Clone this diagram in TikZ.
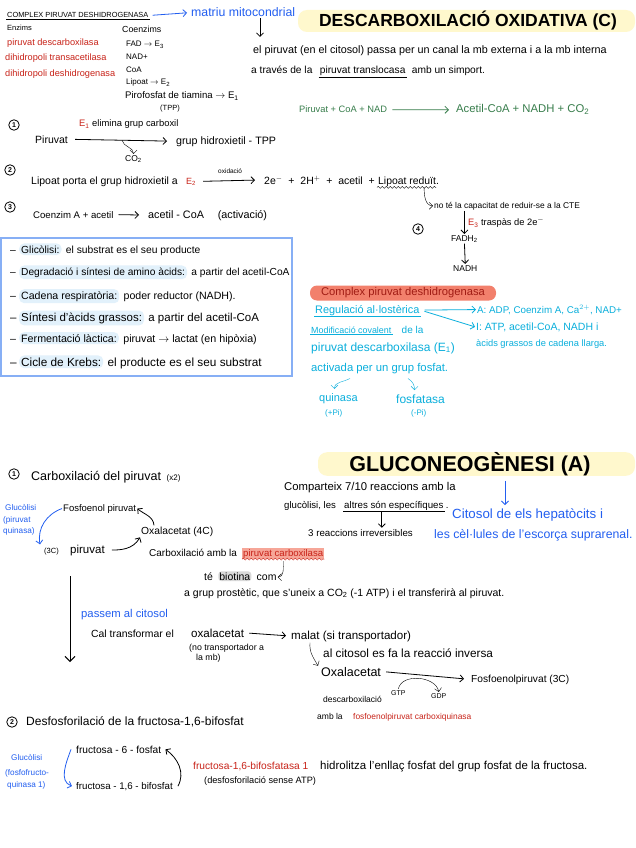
\documentclass[tikz,border=0pt]{standalone}
\usepackage{fontspec}
\setmainfont{Liberation Sans}
\usepackage{xcolor}
\usepackage{tikz}
\usetikzlibrary{positioning, arrows.meta, decorations.pathmorphing}

\definecolor{hred}{RGB}{200,35,25}
\definecolor{hblue}{RGB}{35,95,240}
\definecolor{hcyan}{RGB}{10,175,220}
\definecolor{hgreen}{RGB}{55,125,75}
\definecolor{hyellow}{RGB}{255,248,205}
\definecolor{hsalmon}{RGB}{242,128,108}
\definecolor{hpill}{RGB}{226,241,251}
\definecolor{hbox}{RGB}{135,175,245}

\begin{document}
\begin{tikzpicture}[
    x=1pt, y=-1pt,
    >={Straight Barb[length=3.5pt]},
    txt/.style={anchor=base west, inner sep=1pt},
    fs/.style={font=\fontsize{#1}{#1}\selectfont},
    hdr/.style={fill=hyellow, rounded corners=9pt, minimum height=22pt, inner sep=0pt},
    num/.style={draw, circle, thick, inner sep=0pt, minimum size=10.5pt, font=\fontsize{7}{7}\selectfont\bfseries},
    pill/.style={txt, fill=hpill, rounded corners=5pt, inner sep=2pt},
    wav/.style={decorate, decoration={snake, amplitude=1pt, segment length=4pt}}
]
\fill[white] (0,0) rectangle (635,848);
\useasboundingbox (0,0) rectangle (635,848);

% descarboxilacio oxidativa
\node[hdr, minimum width=337pt, font=\fontsize{17.5}{18}\selectfont\bfseries] (hdrC) at (466.5,21) {\hspace*{3pt}DESCARBOXILACIÓ OXIDATIVA (C)};

\node[txt, fs=7.4] (cpdh) at (6,18) {COMPLEX PIRUVAT DESHIDROGENASA};
\draw[thick] (cpdh.south west) -- (cpdh.south east);
\node[txt, fs=12.3, hblue] (matriu) at (190,17) {matriu mitocondrial};
\draw[->, hblue, thick, shorten <=3pt, shorten >=3pt] (cpdh.east) -- (matriu.west);

% enzims i coenzims
\node[txt, fs=7.5] (enz) at (6,31) {Enzims};
\node[txt, fs=9.2, hred] (enz1) at (6,46) {piruvat descarboxilasa};
\node[txt, fs=9.2, hred] (enz2) at (4,61) {dihidropoli transacetilasa};
\node[txt, fs=9.2, hred] (enz3) at (4,77) {dihidropoli deshidrogenasa};

\node[txt, fs=8.8] (coe) at (121,33) {Coenzims};
\node[txt, fs=8] (fad) at (125,47) {FAD $\rightarrow$ E\textsubscript{3}};
\node[txt, fs=8] (nad) at (125,60) {NAD+};
\node[txt, fs=8] (coa) at (125,73) {CoA};
\node[txt, fs=8] (lip) at (125,85) {Lipoat $\rightarrow$ E\textsubscript{2}};
\node[txt, fs=9.6] (tpp) at (124,99) {Pirofosfat de tiamina $\rightarrow$ E\textsubscript{1}};
\node[txt, fs=7.5] (tpp2) at (159,111) {(TPP)};

% piruvat al mitocondri
\node[txt, fs=10.8] (elpir) at (252,54) {el piruvat (en el citosol) passa per un canal la mb externa i a la mb interna};
\draw[->, thick] ([xshift=70pt]matriu.south west) -- ([xshift=8pt, yshift=8pt]elpir.north west);
\node[txt, fs=10.2] (trav) at (250,74) {a través de la};
\node[txt, fs=10.2] (transl) at ([xshift=5pt]trav.base east) {piruvat translocasa};
\draw[thick] (transl.south west) -- (transl.south east);
\node[txt, fs=10.2] (simp) at ([xshift=4pt]transl.base east) {amb un simport.};

\node[txt, fs=9.3, hgreen] (greac) at (298,113) {Piruvat + CoA + NAD};
\node[txt, fs=11.3, hgreen] (gprod) at (455,113) {Acetil-CoA + NADH + CO\textsubscript{2}};
\draw[->, hgreen, thick, shorten <=4pt, shorten >=6pt] (greac.east) -- (gprod.west);

% pas 1
\node[num] (n1) at (14,125) {1};
\node[txt, fs=9.4] (e1el) at (78,127) {\textcolor{hred}{E\textsubscript{1}} elimina grup carboxil};
\node[txt, fs=10.5] (pir1) at (34,143) {Piruvat};
\node[txt, fs=10.7] (hidro) at (175,144) {grup hidroxietil - TPP};
\draw[->, thick, shorten <=6pt, shorten >=8pt] (pir1.east) -- coordinate[pos=0.5] (m1) (hidro.west);
\node[txt, fs=8.5] (co2) at (124,161) {CO\textsubscript{2}};
\draw[->] (m1) to[out=-80, in=90] (co2.north);

% pas 2
\node[num] (n2) at (10,170) {2};
\node[txt, fs=10.5] (lip2) at (30,184) {Lipoat porta el grup hidroxietil a};
\node[txt, fs=9, hred] (e2b) at (185,184) {E\textsubscript{2}};
\node[txt, fs=10.5] (prod2) at (263,184) {2e$^-$ \ + \ 2H$^+$ \ + \ acetil \ +};
\node[txt, fs=10.4] (lipr) at (377,184) {Lipoat reduït.};
\draw[->, thick, shorten <=6pt, shorten >=8pt] (e2b.east) -- node[above=3pt, fs=6.5] (oxi) {oxidació} (prod2.west);
\draw[wav] (lipr.south west) -- ([xshift=-4pt]lipr.south east);
\node[txt, fs=8.4] (notela) at (433,208) {no té la capacitat de reduir-se a la CTE};
\draw[->] ([xshift=-16pt]lipr.south east) to[out=-90, in=180] (notela.west);

% pas 3
\node[num] (n3) at (10,207) {3};
\node[txt, fs=9.6] (coen) at (32,218) {Coenzim A + acetil};
\node[txt, fs=10.8] (acoa) at (147,218) {acetil - CoA \quad (activació)};
\draw[->, thick, shorten <=4pt, shorten >=8pt] (coen.east) -- (acoa.west);

% pas 4
\node[num] (n4) at (418,229) {4};
\node[txt, fs=8.5] (fadh) at (450,241) {FADH\textsubscript{2}};
\node[txt, fs=8.5] (nadh) at (452,271) {NADH};
\draw[->, thick] (notela.south -| fadh.north) -- node[right, fs=9.3] (tras) {\textcolor{hred}{E\textsubscript{3}} traspàs de 2e$^-$} (fadh.north);
\draw[->, thick] (fadh.south) -- (nadh.north);

% quadre de destins de l'acetil-CoA
\node[draw=hbox, line width=1.2pt, minimum width=291pt, minimum height=138pt, inner sep=0pt] (box) at (146.5,307) {};
\foreach \i/\yy/\sz/\term/\rest in {
    1/253/10.3/{Glicòlisi:}/{el substrat es el seu producte},
    2/275/10.2/{Degradació i síntesi de amino àcids:}/{a partir del acetil-CoA},
    3/299/10.6/{Cadena respiratòria:}/{poder reductor (NADH).},
    4/321/11.5/{Síntesi d'àcids grassos:}/{a partir del acetil-CoA},
    5/342/10.7/{Fermentació làctica:}/{piruvat $\rightarrow$ lactat (en hipòxia)},
    6/366/11.8/{Cicle de Krebs:}/{el producte es el seu substrat}
}{
    \node[txt, fs=\sz] (dash\i) at (9,\yy) {–};
    \node[pill, fs=\sz] (term\i) at (19,\yy) {\term};
    \node[txt, fs=\sz] (rest\i) at ([xshift=3pt]term\i.base east) {\rest};
}

% regulacio
\node[fill=hsalmon, rounded corners=7pt, minimum width=186pt, minimum height=15pt, inner sep=0pt, fs=11.2, text=hred!80!black] (cpdh2) at (403,293) {Complex piruvat deshidrogenasa};
\node[txt, fs=10.9, hcyan] (alos) at (314,313) {Regulació al·lostèrica};
\draw[hcyan, thick] (alos.south west) -- (alos.south east);
\node[txt, fs=9.8, hcyan] (regA) at (476,313) {A: ADP, Coenzim A, Ca$^{2+}$, NAD+};
\node[txt, fs=10.5, hcyan] (regI) at (475,330) {I: ATP, acetil-CoA, NADH i};
\node[txt, fs=9.3, hcyan] (regI2) at (475,346) {àcids grassos de cadena llarga.};
\draw[->, hcyan, thick, shorten <=4pt] (alos.east) -- (regA.west);
\draw[->, hcyan, thick, shorten <=4pt] (alos.east) -- (regI.west);
\node[txt, fs=8.9, hcyan] (modc) at (310,333) {Modificació covalent};
\draw[hcyan, thick] (modc.south west) -- (modc.south east);
\node[txt, fs=10, hcyan] (dela) at ([xshift=8pt]modc.base east) {de la};
\node[txt, fs=12, hcyan] (pdesc) at (310,351) {piruvat descarboxilasa (E\textsubscript{1})};
\node[txt, fs=11.3, hcyan] (activ) at (310,371) {activada per un grup fosfat.};
\node[txt, fs=11, hcyan] (quin) at (318,401) {quinasa};
\node[txt, fs=8, hcyan] (quin2) at (324,415) {(+Pi)};
\node[txt, fs=12, hcyan] (fosf) at (395,403) {fosfatasa};
\node[txt, fs=8, hcyan] (fosf2) at (410,415) {(-Pi)};
\draw[->, hcyan] ([xshift=40pt, yshift=-4pt]activ.south west) to[out=-150, in=90] ([xshift=-4pt, yshift=3pt]quin.north);
\draw[->, hcyan] ([xshift=98pt, yshift=-4pt]activ.south west) to[out=-30, in=90] ([xshift=-6pt, yshift=3pt]fosf.north);

% gluconeogenesi
\node[hdr, minimum width=317pt, font=\fontsize{21.5}{22}\selectfont\bfseries] (hdrA) at (476.5,464) {\hspace*{-13pt}GLUCONEOGÈNESI (A)};

\node[num] (g1n) at (14,474) {1};
\node[txt, fs=12.5] (carbx) at (30,480) {Carboxilació del piruvat \,{\fontsize{8}{8}\selectfont(x2)}};

\node[txt, fs=11.3] (comp) at (283,490) {Comparteix 7/10 reaccions amb la};
\node[txt, fs=9.6] (glu) at (283,508) {glucòlisi, les};
\node[txt, fs=9.7] (altr) at (343,508) {altres són específiques};
\draw[thick] (altr.south west) -- (altr.south east);
\node[txt, fs=9.7] (punt) at (altr.base east) {.};
\node[txt, fs=9.7] (irrev) at (307,536) {3 reaccions irreversibles};
\draw[->, thick] ([xshift=-12pt]altr.south) -- ([xshift=-12pt]altr.south |- irrev.north);

\node[txt, fs=13.3, hblue] (cit1) at (451,518) {Citosol de els hepatòcits i};
\node[txt, fs=12.3, hblue] (cit2) at (433,538) {les cèl·lules de l'escorça suprarenal.};
\draw[->, hblue, thick, shorten <=5pt] ([xshift=54pt]cit1.north west |- hdrA.south) -- ([xshift=54pt, yshift=2pt]cit1.north west);

% cicle piruvat - oxalacetat - fosfoenolpiruvat
\node[txt, fs=8.2, hblue] (gq1) at (4,510) {Glucòlisi};
\node[txt, fs=8.2, hblue] (gq2) at (2,522) {(piruvat};
\node[txt, fs=8.2, hblue] (gq3) at (2,533) {quinasa)};
\node[txt, fs=9.5] (fosfo) at (62,511) {Fosfoenol piruvat};
\node[txt, fs=10.3] (oxal) at (140,534) {Oxalacetat (4C)};
\node[txt, fs=7.5] (p3c) at (43,553) {(3C)};
\node[txt, fs=11.5] (pir3) at (69,553) {piruvat};
\draw[->, hblue, thick] (fosfo.west) to[out=200, in=100] ([xshift=-3pt, yshift=2pt]p3c.north west);
\draw[->, thick, shorten <=6pt] (pir3.east) to[out=0, in=-120] (oxal.south west);
\draw[->, thick] ([xshift=14pt]oxal.north west) to[out=95, in=-40] (fosfo.east);

\node[txt, fs=10] (cbpc) at (148,556) {Carboxilació amb la};
\node[txt, fs=9.6, fill=hsalmon!70, text=hred, inner sep=1pt] (pcarb) at (242,556) {piruvat carboxilasa};
\draw[wav, hred] (pcarb.south west) -- (pcarb.south east);
\node[txt, fs=10.5] (te) at (203,580) {té};
\node[txt, fs=10.5, fill=gray!30, rounded corners=3pt] (biot) at ([xshift=4pt]te.base east) {biotina};
\node[txt, fs=10.5] (com) at ([xshift=4pt]biot.base east) {com};
\draw[->] ([yshift=-2pt]pcarb.south) to[out=-90, in=0] (com.east);
\node[txt, fs=10.5] (prost) at (183,596) {a grup prostètic, que s'uneix a CO\textsubscript{2} (-1 ATP) i el transferirà al piruvat.};

% pas al citosol
\coordinate (vtop) at (70,576);
\coordinate (vbot) at (70,662);
\draw[-{Straight Barb[length=5pt]}, line width=1pt] (vtop) -- (vbot);

\node[txt, fs=11.3, hblue] (pass) at (80,617) {passem al citosol};
\node[txt, fs=10.4] (calt) at (90,637) {Cal transformar el};
\node[txt, fs=11.6] (oxa1) at (190,637) {oxalacetat};
\node[txt, fs=11.6] (malat) at (290,639) {malat (si transportador)};
\draw[->, thick, shorten <=4pt, shorten >=4pt] (oxa1.east) -- (malat.west);
\node[txt, fs=8.8] (notr1) at (188,650) {(no transportador a};
\node[txt, fs=8.8] (notr2) at (195,660) {la mb)};
\node[txt, fs=11.8] (inv) at (322,657) {al citosol es fa la reacció inversa};
\node[txt, fs=12.5] (oxa2) at (320,676) {Oxalacetat};
\node[txt, fs=10.2] (fep) at (470,682) {Fosfoenolpiruvat (3C)};
\draw[->] ([xshift=20pt]malat.south west) to[out=-95, in=120] ([xshift=-2pt]oxa2.north west);
\draw[->, thick, shorten <=4pt, shorten >=6pt] (oxa2.east) -- (fep.west);
\node[txt, fs=7] (gtp) at (390,695) {GTP};
\node[txt, fs=7] (gdp) at (430,698) {GDP};
\draw[->] (gtp.north) .. controls +(3,-16) and +(-3,-16) .. (gdp.north);
\node[txt, fs=8.5] (desc) at (322,702) {descarboxilació};
\node[txt, fs=8.5] (ambl) at (316,719) {amb la};
\node[txt, fs=8.4, hred] (fepck) at (352,719) {fosfoenolpiruvat carboxiquinasa};

% pas 2 gluconeogenesi
\node[num] (g2n) at (12,722) {2};
\node[txt, fs=12] (desf) at (25,725) {Desfosforilació de la fructosa-1,6-bifosfat};
\node[txt, fs=8.2, hblue] (gf1) at (10,760) {Glucòlisi};
\node[txt, fs=8.2, hblue] (gf2) at (4,775) {(fosfofructo-};
\node[txt, fs=8.2, hblue] (gf3) at (6,787) {quinasa 1)};
\node[txt, fs=10.2] (f6p) at (75,753) {fructosa - 6 - fosfat};
\node[txt, fs=9.7] (f16) at (75,789) {fructosa - 1,6 - bifosfat};
\draw[->, hblue, thick] ([xshift=-4pt]f6p.west) to[out=-110, in=160] ([xshift=-3pt]f16.west);
\draw[->, thick] ([xshift=4pt]f16.east) to[out=60, in=-35] ([xshift=3pt]f6p.east);
\node[txt, fs=10.2, hred] (fbp) at (192,769) {fructosa-1,6-bifosfatasa 1};
\node[txt, fs=11.5] (hidr) at (319,769) {hidrolitza l'enllaç fosfat del grup fosfat de la fructosa.};
\node[txt, fs=9.2] (sense) at (203,783) {(desfosforilació sense ATP)};
\end{tikzpicture}
\end{document}
